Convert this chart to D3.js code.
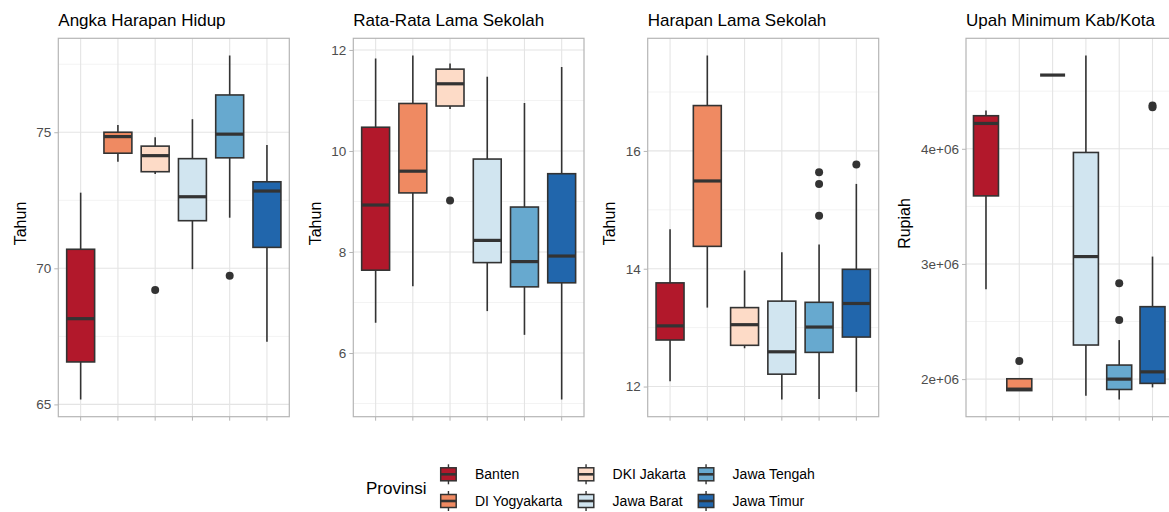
<!DOCTYPE html>
<html>
<head>
<meta charset="utf-8">
<script src="https://cdn.jsdelivr.net/npm/d3@7"></script>
<style>
  body { margin: 0; background: #fff; }
  svg { display: block; font-family: "Liberation Sans", Arial, sans-serif; }
</style>
</head>
<body>
<svg id="chart" width="1169" height="512"></svg>
<script>
// Provinsi & warna (RdBu, 6 kelas)
var provinsi = ['Banten', 'DI Yogyakarta', 'DKI Jakarta', 'Jawa Barat', 'Jawa Tengah', 'Jawa Timur'];
var warna = ['#b2182b', '#ef8a62', '#fddbc7', '#d1e5f0', '#67a9cf', '#2166ac'];

// Statistik boxplot per provinsi: [min whisker, Q1, median, Q3, max whisker]
var ahhStats = [
  [65.18, 66.56, 68.15, 70.70, 72.78],
  [73.92, 74.23, 74.84, 75.00, 75.27],
  [73.47, 73.55, 74.14, 74.49, 74.82],
  [69.97, 71.75, 72.63, 74.03, 75.48],
  [71.86, 74.06, 74.93, 76.37, 77.82],
  [67.30, 70.77, 72.84, 73.18, 74.53]
];
var ahhOutliers = [[], [], [69.20], [], [69.73], []];

var rlsStats = [
  [6.60, 7.64, 8.93, 10.47, 11.83],
  [7.32, 9.17, 9.60, 10.94, 11.89],
  [10.83, 10.89, 11.33, 11.62, 11.73],
  [6.83, 7.79, 8.23, 9.84, 11.47],
  [6.36, 7.31, 7.81, 8.89, 10.95],
  [5.08, 7.39, 7.92, 9.55, 11.66]
];
var rlsOutliers = [[], [], [9.02], [], [], []];

var hlsStats = [
  [12.09, 12.79, 13.03, 13.76, 14.67],
  [13.34, 14.38, 15.49, 16.77, 17.62],
  [12.65, 12.70, 13.05, 13.34, 13.97],
  [11.78, 12.21, 12.59, 13.45, 14.28],
  [11.79, 12.58, 13.01, 13.43, 14.41],
  [11.91, 12.84, 13.41, 13.99, 15.44]
];
var hlsOutliers = [[], [], [], [], [15.64, 15.44, 14.90], [15.77]];

var umkStats = [
  [2780000, 3591000, 4220000, 4287000, 4333000],
  [1900000, 1900000, 1913000, 2003000, 2003000],
  [4640000, 4640000, 4640000, 4640000, 4640000],
  [1855000, 2296000, 3064000, 3968000, 4810000],
  [1823000, 1910000, 2000000, 2122000, 2339000],
  [1928000, 1963000, 2063000, 2629000, 3064000]
];
var umkOutliers = [[], [2157000], [], [], [2832000, 2513000], [4375000, 4360000]];

var judul = ['Angka Harapan Hidup', 'Rata-Rata Lama Sekolah', 'Harapan Lama Sekolah', 'Upah Minimum Kab/Kota'];
var labelY = ['Tahun', 'Tahun', 'Tahun', 'Rupiah'];
var ticksMayor = [[65, 70, 75], [6, 8, 10, 12], [12, 14, 16], [2000000, 3000000, 4000000]];
var ticksMinor = [[67.5, 72.5, 77.5], [5, 7, 9, 11], [13, 15, 17], [2500000, 3500000, 4500000]];

var panels = [
  { stats: ahhStats, outliers: ahhOutliers, fmt: function(d) { return d; } },
  { stats: rlsStats, outliers: rlsOutliers, fmt: function(d) { return d; } },
  { stats: hlsStats, outliers: hlsOutliers, fmt: function(d) { return d; } },
  { stats: umkStats, outliers: umkOutliers, fmt: function(d) { return (d / 1e6) + 'e+06'; } }
];

// Layout
var plotLeft = [0, 294.5, 589, 883.5];
var panelLeft = [58.3, 353.3, 647.7, 966];
var panelRight = [289.3, 584, 878.7, 1172.5];
var panelTop = 38.3, panelBottom = 416.7;

var svg = d3.select('#chart');
var ink = '#333333';
var gridCol = '#e4e4e4';
var minorCol = '#f3f3f3';
var borderCol = '#b5b5b5';

panels.forEach(function(p, i) {
  var all = [];
  p.stats.forEach(function(s) { all.push(s[0], s[4]); });
  p.outliers.forEach(function(o) { all = all.concat(o); });
  var lo = d3.min(all), hi = d3.max(all), pad = (hi - lo) * 0.05;

  var y = d3.scaleLinear().domain([lo - pad, hi + pad]).range([panelBottom, panelTop]);
  var x = d3.scalePoint().domain(provinsi).range([panelLeft[i], panelRight[i]]).padding(0.6);
  var bw = x.step() * 0.75;

  var g = svg.append('g');

  // Minor grid
  g.selectAll('.minor').data(ticksMinor[i].filter(function(t) { return y(t) > panelTop && y(t) < panelBottom; }))
    .join('line')
    .attr('x1', panelLeft[i]).attr('x2', panelRight[i])
    .attr('y1', function(d) { return y(d); }).attr('y2', function(d) { return y(d); })
    .attr('stroke', minorCol).attr('stroke-width', 1);

  // Major grid
  g.selectAll('.major').data(ticksMayor[i])
    .join('line')
    .attr('x1', panelLeft[i]).attr('x2', panelRight[i])
    .attr('y1', function(d) { return y(d); }).attr('y2', function(d) { return y(d); })
    .attr('stroke', gridCol).attr('stroke-width', 1.1);
  g.selectAll('.vgrid').data(provinsi)
    .join('line')
    .attr('x1', function(d) { return x(d); }).attr('x2', function(d) { return x(d); })
    .attr('y1', panelTop).attr('y2', panelBottom)
    .attr('stroke', gridCol).attr('stroke-width', 1.1);

  // Y axis
  var axis = g.append('g')
    .attr('transform', 'translate(' + panelLeft[i] + ',0)')
    .call(d3.axisLeft(y).tickValues(ticksMayor[i]).tickFormat(p.fmt).tickSize(4).tickPadding(3));
  axis.select('.domain').remove();
  axis.selectAll('line').attr('stroke', borderCol);
  axis.selectAll('text').attr('fill', '#4d4d4d').attr('font-size', 13.5)
    .attr('font-family', '"Liberation Sans", Arial, sans-serif');

  // X ticks (tanpa label)
  g.selectAll('.xtick').data(provinsi)
    .join('line')
    .attr('x1', function(d) { return x(d); }).attr('x2', function(d) { return x(d); })
    .attr('y1', panelBottom).attr('y2', panelBottom + 4)
    .attr('stroke', borderCol);

  // Boxes
  var box = g.selectAll('.box').data(provinsi)
    .join('g')
    .attr('class', 'box');

  box.append('line')
    .attr('x1', function(d) { return x(d); }).attr('x2', function(d) { return x(d); })
    .attr('y1', function(d, k) { return y(p.stats[k][0]); })
    .attr('y2', function(d, k) { return y(p.stats[k][4]); })
    .attr('stroke', ink).attr('stroke-width', 1.6);

  box.append('rect')
    .attr('x', function(d) { return x(d) - bw / 2; })
    .attr('width', bw)
    .attr('y', function(d, k) { return y(p.stats[k][3]); })
    .attr('height', function(d, k) { return y(p.stats[k][1]) - y(p.stats[k][3]); })
    .attr('fill', function(d, k) { return warna[k]; })
    .attr('stroke', ink).attr('stroke-width', 1.6);

  box.append('line')
    .attr('x1', function(d) { return x(d) - bw / 2; })
    .attr('x2', function(d) { return x(d) + bw / 2; })
    .attr('y1', function(d, k) { return y(p.stats[k][2]); })
    .attr('y2', function(d, k) { return y(p.stats[k][2]); })
    .attr('stroke', ink).attr('stroke-width', 3.2);

  box.each(function(d, k) {
    d3.select(this).selectAll('circle').data(p.outliers[k])
      .join('circle')
      .attr('cx', x(d))
      .attr('cy', function(v) { return y(v); })
      .attr('r', 4)
      .attr('fill', ink);
  });

  // Panel border
  g.append('rect')
    .attr('x', panelLeft[i]).attr('y', panelTop)
    .attr('width', panelRight[i] - panelLeft[i]).attr('height', panelBottom - panelTop)
    .attr('fill', 'none').attr('stroke', borderCol).attr('stroke-width', 1.2);

  // Title
  g.append('text')
    .attr('x', panelLeft[i]).attr('y', 26)
    .attr('font-size', 17).attr('fill', '#000')
    .text(judul[i]);

  // Y label
  var cy = (panelTop + panelBottom) / 2 - 4;
  g.append('text')
    .attr('transform', 'translate(' + (plotLeft[i] + 26) + ',' + cy + ') rotate(-90)')
    .attr('text-anchor', 'middle')
    .attr('font-size', 16).attr('fill', '#000')
    .text(labelY[i]);
});

// Legend
var leg = svg.append('g');
leg.append('text')
  .attr('x', 366).attr('y', 494)
  .attr('font-size', 17).attr('fill', '#000')
  .text('Provinsi');

var colX = [440.7, 578.3, 698.3];
var rowY = [474.3, 501];
var keyW = 15.5;

provinsi.forEach(function(nama, k) {
  var cx = colX[Math.floor(k / 2)];
  var cyy = rowY[k % 2];
  var kg = leg.append('g');
  kg.append('line')
    .attr('x1', cx + keyW / 2).attr('x2', cx + keyW / 2)
    .attr('y1', cyy - 10).attr('y2', cyy + 10)
    .attr('stroke', ink).attr('stroke-width', 1.4);
  kg.append('rect')
    .attr('x', cx).attr('y', cyy - 6.5).attr('width', keyW).attr('height', 13)
    .attr('fill', warna[k]).attr('stroke', ink).attr('stroke-width', 1.5);
  kg.append('line')
    .attr('x1', cx).attr('x2', cx + keyW)
    .attr('y1', cyy).attr('y2', cyy)
    .attr('stroke', ink).attr('stroke-width', 2.6);
  kg.append('text')
    .attr('x', cx + 34.3).attr('y', cyy + 5)
    .attr('font-size', 14).attr('fill', '#000')
    .text(nama);
});
</script>
</body>
</html>
